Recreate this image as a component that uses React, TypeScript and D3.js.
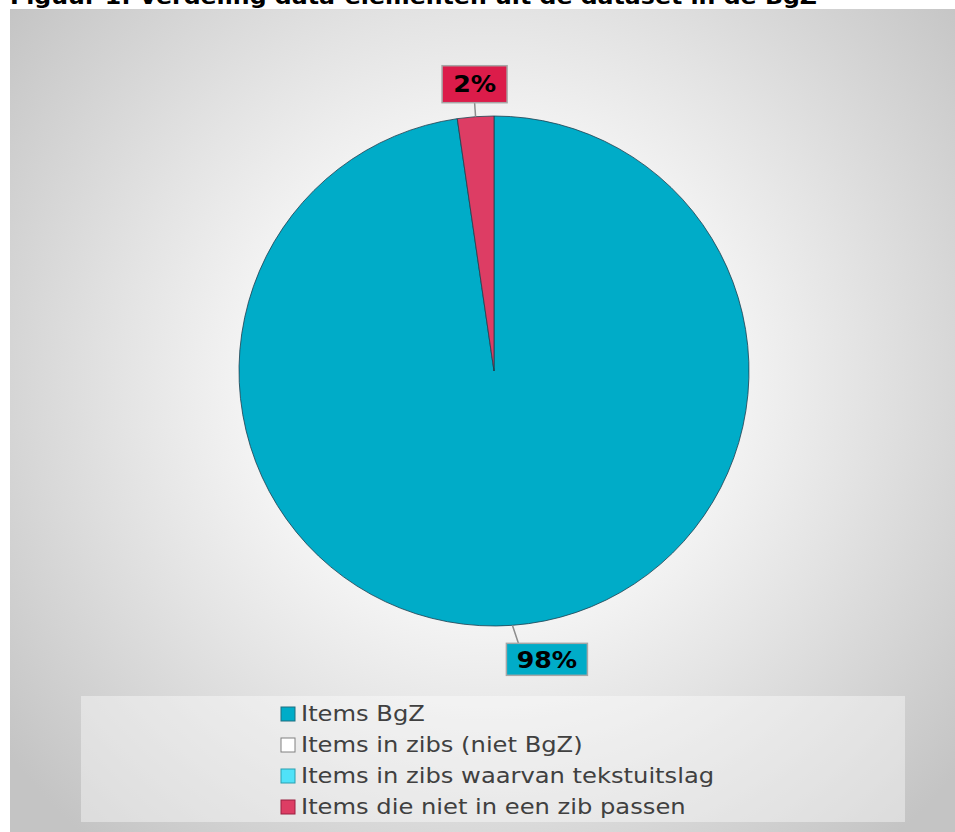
import React from "react";
import * as d3 from "d3";

const categories = [
  "Items BgZ",
  "Items in zibs (niet BgZ)",
  "Items in zibs waarvan tekstuitslag",
  "Items die niet in een zib passen",
];
const values = [97.7, 0, 0, 2.3];
const sliceColors = ["#00acc8", "#ffffff", "#50e2f8", "#dd3d64"];
const labelColors = ["#00acc8", "#ffffff", "#50e2f8", "#dc1c4a"];
const legendStroke = ["#1f6f80", "#808080", "#2a9fb0", "#9a2040"];
const labelTexts = ["98%", "", "", "2%"];
const titleText = "Figuur 1: Verdeling data-elementen uit de dataset in de BgZ";

const W = 955;
const H = 832;
const FONT = "'DejaVu Sans', Verdana, sans-serif";
const WIDEN = 1.1;

export default function App() {
  const cx = 494;
  const cy = 371;
  const r = 255;

  const pie = d3
    .pie<number>()
    .sort(null)
    .value((d) => d)
    .startAngle(0)
    .endAngle(2 * Math.PI);
  const arcs = pie(values);
  const arcGen = d3.arc<d3.PieArcDatum<number>>().innerRadius(0).outerRadius(r);

  const boxW = [81, 0, 0, 65];
  const boxH = [32, 0, 0, 37];

  const legendX = 281;
  const legendY0 = 721;
  const legendStep = 31;

  return (
    <svg
      width={W}
      height={H}
      style={{ position: "absolute", left: 0, top: 0 }}
      xmlns="http://www.w3.org/2000/svg"
    >
      <defs>
        <radialGradient id="bg" gradientUnits="userSpaceOnUse" cx={490} cy={380} r={610}>
          <stop offset="0" stopColor="#ffffff" />
          <stop offset="0.3" stopColor="#fbfbfb" />
          <stop offset="0.6" stopColor="#e4e4e4" />
          <stop offset="1" stopColor="#c4c4c4" />
        </radialGradient>
      </defs>
      <rect x={0} y={0} width={W} height={H} fill="#ffffff" />
      <rect x={10} y={9} width={W - 10} height={H - 9} fill="url(#bg)" />
      <text
        x={10}
        y={4}
        fontFamily={FONT}
        fontWeight="bold"
        fontSize={21}
        textLength={807}
        lengthAdjust="spacingAndGlyphs"
        fill="#000"
      >
        {titleText}
      </text>

      <g transform={`translate(${cx},${cy})`}>
        {arcs.map((a, i) =>
          a.value > 0 ? (
            <path
              key={i}
              d={arcGen(a) || ""}
              fill={sliceColors[i]}
              stroke="#1f3f4f"
              strokeWidth={0.8}
            />
          ) : null
        )}
        {arcs.map((a, i) => {
          if (a.value <= 0) return null;
          const mid = (a.startAngle + a.endAngle) / 2;
          const sx = Math.sin(mid);
          const sy = -Math.cos(mid);
          const x1 = sx * r;
          const y1 = sy * r;
          const lower = sy > 0;
          const x2 = lower ? x1 + 6 : sx * (r + 14);
          const y2 = lower ? y1 + 18 : sy * (r + 14);
          const bw = boxW[i];
          const bh = boxH[i];
          const bx = lower ? x2 - 12 : x2 - bw / 2;
          const by = lower ? y2 : y2 - bh;
          return (
            <g key={"l" + i}>
              <line x1={x1} y1={y1} x2={x2} y2={y2} stroke="#8c8c8c" strokeWidth={1.5} />
              <rect
                x={bx}
                y={by}
                width={bw}
                height={bh}
                fill={labelColors[i]}
                stroke="#a6a6a6"
                strokeWidth={1.5}
              />
              <g transform={`translate(${bx + bw / 2},${by + bh / 2}) scale(${WIDEN},1)`}>
                <text
                  x={0}
                  y={0}
                  dy="0.36em"
                  textAnchor="middle"
                  fontFamily={FONT}
                  fontWeight="bold"
                  fontSize={23}
                  fill="#000"
                >
                  {labelTexts[i]}
                </text>
              </g>
            </g>
          );
        })}
      </g>

      <rect x={81} y={696} width={824} height={126} fill="#ffffff" fillOpacity={0.4} />
      {categories.map((c, i) => (
        <g key={"lg" + i}>
          <rect
            x={legendX}
            y={legendY0 + i * legendStep - 14}
            width={14}
            height={14}
            fill={sliceColors[i]}
            stroke={legendStroke[i]}
            strokeWidth={1}
          />
          <g transform={`translate(${legendX + 20},${legendY0 + i * legendStep}) scale(${WIDEN},1)`}>
            <text x={0} y={0} fontFamily={FONT} fontSize={22} fill="#404040">
              {c}
            </text>
          </g>
        </g>
      ))}
    </svg>
  );
}
